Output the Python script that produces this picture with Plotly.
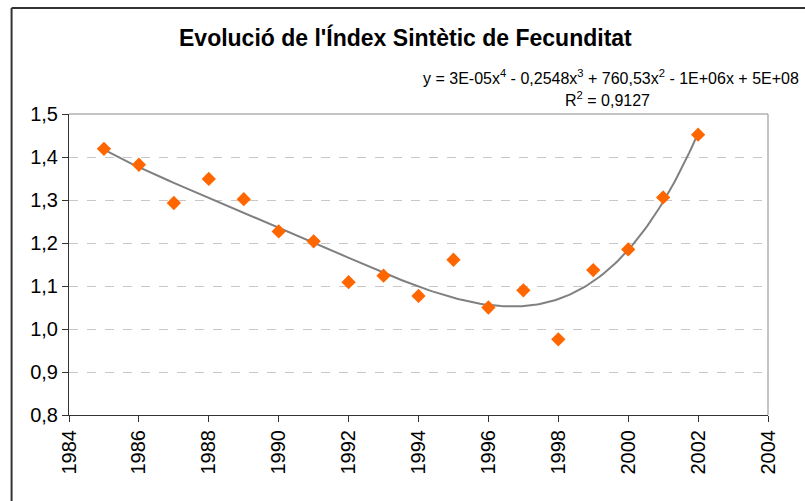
import numpy as np
import plotly.graph_objects as go

years = [1985, 1986, 1987, 1988, 1989, 1990, 1991, 1992, 1993,
         1994, 1995, 1996, 1997, 1998, 1999, 2000, 2001, 2002]
isf = [1.419, 1.382, 1.293, 1.349, 1.302, 1.227, 1.204, 1.109, 1.124,
       1.077, 1.161, 1.050, 1.090, 0.976, 1.137, 1.185, 1.306, 1.452]

x_ticks = [1984, 1986, 1988, 1990, 1992, 1994, 1996, 1998, 2000, 2002, 2004]
y_ticks = [0.8, 0.9, 1.0, 1.1, 1.2, 1.3, 1.4, 1.5]
y_tick_text = ["0,8", "0,9", "1,0", "1,1", "1,2", "1,3", "1,4", "1,5"]

title_text = "<b>Evolució de l'Índex Sintètic de Fecunditat</b>"
eq_text = "y = 3E-05x<sup>4</sup> - 0,2548x<sup>3</sup> + 760,53x<sup>2</sup> - 1E+06x + 5E+08"
r2_text = "R<sup>2</sup> = 0,9127"

# 4th order polynomial trendline (centered for numeric stability)
xa = np.array(years, dtype=float)
xc = xa.mean()
coef = np.polyfit(xa - xc, np.array(isf), 4)
xt = np.linspace(years[0], years[-1], 200)
yt = np.polyval(coef, xt - xc)

W, H = 805, 501
L, R, T, B = 68.5, 36.5, 114, 86
pw, ph = W - L - R, H - T - B

def px(xp):
    return (xp - L) / pw

def py(yp):
    return (H - B - yp) / ph

fig = go.Figure()
fig.add_trace(go.Scatter(x=xt, y=yt, mode="lines",
                         line=dict(color="#808080", width=2),
                         hoverinfo="skip", showlegend=False))
fig.add_trace(go.Scatter(x=years, y=isf, mode="markers",
                         marker=dict(symbol="diamond", size=11, color="#FF6600",
                                     line=dict(width=0)),
                         showlegend=False))

fig.update_layout(
    width=W, height=H,
    margin=dict(l=L, r=R, t=T, b=B),
    paper_bgcolor="white", plot_bgcolor="white",
    font=dict(family="Liberation Sans, Arial, sans-serif", color="black"),
    xaxis=dict(range=[1984, 2004], tickvals=x_ticks, ticktext=[str(v) for v in x_ticks],
               tickangle=-90, tickfont=dict(size=20),
               showgrid=False, zeroline=False,
               showline=True, linecolor="#333333", linewidth=1,
               ticks="outside", ticklen=6, tickcolor="#333333",
               mirror=False),
    yaxis=dict(range=[0.8, 1.5], tickvals=y_ticks, ticktext=y_tick_text,
               tickfont=dict(size=20),
               showgrid=True, gridcolor="#c8c8c8", griddash="dash", gridwidth=1,
               zeroline=False,
               showline=True, linecolor="#333333", linewidth=1,
               ticks="outside", ticklen=6, tickcolor="#333333"),
    shapes=[
        # plot area border top and right (gray)
        dict(type="line", xref="paper", yref="paper", x0=0, x1=1, y0=1, y1=1,
             line=dict(color="#b0b0b0", width=1.5)),
        dict(type="line", xref="paper", yref="paper", x0=1, x1=1, y0=0, y1=1,
             line=dict(color="#b0b0b0", width=1.5)),
        # outer chart frame
        dict(type="line", xref="paper", yref="paper", x0=px(11), x1=px(806),
             y0=py(8), y1=py(8), line=dict(color="#333333", width=2)),
        dict(type="line", xref="paper", yref="paper", x0=px(11), x1=px(11),
             y0=py(8), y1=py(502), line=dict(color="#333333", width=2)),
    ],
    annotations=[
        dict(text=title_text, xref="paper", yref="paper", x=px(405), y=py(37),
             xanchor="center", yanchor="middle", showarrow=False,
             font=dict(size=23)),
        dict(text=eq_text, xref="paper", yref="paper", x=px(802), y=py(77),
             xanchor="right", yanchor="middle", showarrow=False,
             font=dict(size=16)),
        dict(text=r2_text, xref="paper", yref="paper", x=px(608), y=py(99),
             xanchor="center", yanchor="middle", showarrow=False,
             font=dict(size=16)),
    ],
)

fig.write_html("out.html",
               config={"displayModeBar": False},
               post_script="document.body.style.margin='0';document.body.style.overflow='hidden';")
